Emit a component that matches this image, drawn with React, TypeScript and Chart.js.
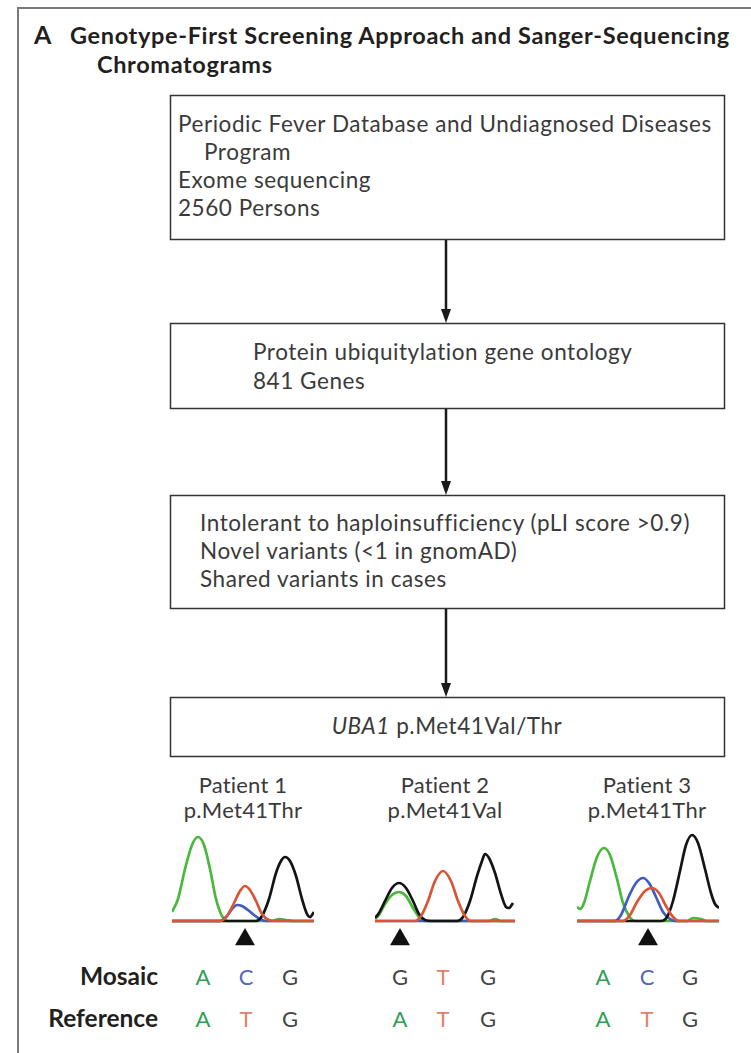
import React, { useEffect, useRef } from "react";
import { Chart, registerables } from "chart.js";
Chart.register(...registerables);

// ---------- data ----------
const titleLines = ["Genotype-First Screening Approach and Sanger-Sequencing", "Chromatograms"];
const box1Lines = ["Periodic Fever Database and Undiagnosed Diseases", "Program", "Exome sequencing", "2560 Persons"];
const box2Lines = ["Protein ubiquitylation gene ontology", "841 Genes"];
const box3Lines = ["Intolerant to haploinsufficiency (pLI score >0.9)", "Novel variants (<1 in gnomAD)", "Shared variants in cases"];
const box4Gene = "UBA1";
const box4Variant = " p.Met41Val/Thr";

const patientNames = ["Patient 1", "Patient 2", "Patient 3"];
const patientMutations = ["p.Met41Thr", "p.Met41Val", "p.Met41Thr"];
const mosaicBases = [["A", "C", "G"], ["G", "T", "G"], ["A", "C", "G"]];
const referenceBases = [["A", "T", "G"], ["A", "T", "G"], ["A", "T", "G"]];
const variantPositions = [73, 25, 71];

// chromatogram traces: [scan position, signal intensity]
const p1Green = [[0, 9], [6, 22], [13, 52], [20, 76], [26, 84], [32, 76], [38, 52], [44, 22], [50, 5], [56, 0], [100, 0], [107, 2], [114, 1], [122, 0], [142, 0]];
const p1Blue = [[0, 0], [48, 0], [54, 4], [60, 12], [65, 16], [70, 15], [76, 11], [82, 6], [88, 2], [94, 0], [142, 0]];
const p1Red = [[0, 0], [48, 0], [55, 5], [62, 18], [68, 30], [73, 35], [78, 31], [84, 20], [90, 7], [97, 1], [104, 0], [142, 0]];
const p1Black = [[0, 0], [84, 0], [90, 5], [97, 22], [104, 48], [109, 60], [113, 64], [118, 60], [124, 45], [130, 22], [135, 7], [138, 4], [142, 9]];

const p2Green = [[0, 2], [4, 6], [10, 17], [17, 26], [24, 29], [31, 25], [38, 13], [44, 4], [50, 0], [114, 0], [120, 2], [126, 0], [140, 0]];
const p2Blue = [[0, 0], [140, 0]];
const p2Red = [[0, 0], [40, 0], [46, 5], [53, 20], [60, 40], [68, 50], [76, 40], [83, 20], [90, 5], [96, 0], [140, 0]];
const p2Black = [[0, 3], [4, 8], [10, 20], [17, 33], [24, 38], [31, 33], [38, 20], [44, 7], [50, 1], [56, 0], [82, 0], [88, 4], [95, 20], [102, 45], [107, 60], [110, 67], [114, 63], [120, 48], [126, 27], [131, 14], [134, 13], [138, 18]];

const p3Green = [[0, 14], [3, 12], [7, 18], [13, 40], [20, 64], [27, 73], [33, 66], [40, 42], [46, 18], [52, 5], [58, 0], [110, 0], [116, 3], [124, 2], [130, 0], [142, 0]];
const p3Blue = [[0, 0], [38, 0], [44, 6], [52, 25], [59, 38], [66, 43], [72, 38], [79, 24], [86, 9], [93, 2], [98, 0], [142, 0]];
const p3Red = [[0, 0], [46, 0], [53, 6], [60, 19], [68, 30], [75, 33], [82, 28], [89, 15], [96, 4], [102, 0], [142, 0]];
const p3Black = [[0, 0], [84, 0], [90, 4], [96, 20], [103, 50], [109, 76], [115, 86], [121, 78], [128, 52], [134, 28], [138, 17], [142, 13]];

const traces = [
  { green: p1Green, blue: p1Blue, red: p1Red, black: p1Black },
  { green: p2Green, blue: p2Blue, red: p2Red, black: p2Black },
  { green: p3Green, blue: p3Blue, red: p3Red, black: p3Black },
];

// ---------- styling ----------
const FONT = "Lato, 'Open Sans', sans-serif";
const COL = { green: "#49b83c", blue: "#3f5cc0", red: "#db5437", black: "#141414" };
const BASE_COL: Record<string, string> = { A: "#2f9e55", C: "#5766b8", G: "#454545", T: "#e27f6c" };
const panelLeft = [172, 375, 577];
const panelWidth = [142, 140, 142];
const panelCenters = [243, 445, 647];
const baseX = [[203, 246, 290], [400, 443, 488], [603, 647, 690]];

function Chromatogram({ idx }: { idx: number }) {
  const ref = useRef<HTMLCanvasElement | null>(null);
  useEffect(() => {
    const t = traces[idx];
    const toPts = (a: number[][]) => a.map(([x, y]) => ({ x, y }));
    const line = (data: number[][], color: string) => ({
      type: "line" as const,
      data: toPts(data),
      borderColor: color,
      borderWidth: 2.7,
      pointRadius: 0,
      cubicInterpolationMode: "monotone" as const,
      fill: false,
    });
    const chart = new Chart(ref.current as HTMLCanvasElement, {
      type: "line",
      data: {
        datasets: [
          {
            type: "scatter",
            data: [{ x: variantPositions[idx], y: -18.5 }],
            pointStyle: "triangle",
            pointRadius: 11.5,
            backgroundColor: "#111",
            borderWidth: 0,
          } as any,
          line(t.red, COL.red),
          line(t.black, COL.black),
          line(t.blue, COL.blue),
          line(t.green, COL.green),
        ],
      },
      options: {
        animation: false,
        responsive: false,
        maintainAspectRatio: false,
        layout: { padding: 0, autoPadding: false },
        events: [],
        scales: {
          x: { type: "linear", min: 0, max: panelWidth[idx], display: false },
          y: { type: "linear", min: -29, max: 95, display: false },
        },
        plugins: { legend: { display: false }, tooltip: { enabled: false } },
      },
    });
    return () => chart.destroy();
  }, [idx]);
  return (
    <canvas
      ref={ref}
      width={panelWidth[idx]}
      height={124}
      style={{ position: "absolute", left: panelLeft[idx], top: 826, width: panelWidth[idx], height: 124 }}
    />
  );
}

function Arrow({ y1, y2 }: { y1: number; y2: number }) {
  return (
    <g>
      <line x1={446} y1={y1} x2={446} y2={y2 - 10} stroke="#1a1a1a" strokeWidth={2.5} />
      <polygon points={`${441},${y2 - 14} ${451},${y2 - 14} ${446},${y2}`} fill="#1a1a1a" />
    </g>
  );
}

export default function App() {
  const txt = { fontFamily: FONT, fontSize: 22.5, fill: "#3a3a3a", letterSpacing: 0.55 } as any;
  const ttl = { fontFamily: FONT, fontWeight: 700, fontSize: 23.5, fill: "#231f20", letterSpacing: 0.65 } as any;
  return (
    <div style={{ position: "absolute", left: 0, top: 0, width: 751, height: 1053, background: "#fff", overflow: "hidden" }}>
      <svg width={751} height={1053} style={{ position: "absolute", left: 0, top: 0 }}>
        <path d="M 18 1053 V 8 H 751" fill="none" stroke="#7a7a7a" strokeWidth={2} />
        <text x={34} y={44} fontFamily={FONT} fontWeight={700} fontSize={25} fill="#231f20">A</text>
        <text {...ttl} x={70} y={44}>{titleLines[0]}</text>
        <text {...ttl} x={97} y={73}>{titleLines[1]}</text>

        <rect x={170.5} y={95.5} width={554} height={144} fill="none" stroke="#333" strokeWidth={1.5} />
        <text {...txt} x={178} y={132}>{box1Lines[0]}</text>
        <text {...txt} x={204} y={160}>{box1Lines[1]}</text>
        <text {...txt} x={178} y={188}>{box1Lines[2]}</text>
        <text {...txt} x={178} y={216}>{box1Lines[3]}</text>

        <Arrow y1={240} y2={323} />
        <rect x={170.5} y={323.5} width={554} height={85} fill="none" stroke="#333" strokeWidth={1.5} />
        <text {...txt} x={253} y={360}>{box2Lines[0]}</text>
        <text {...txt} x={253} y={389}>{box2Lines[1]}</text>

        <Arrow y1={409} y2={495} />
        <rect x={170.5} y={495.5} width={554} height={113} fill="none" stroke="#333" strokeWidth={1.5} />
        <text {...txt} x={200} y={531}>{box3Lines[0]}</text>
        <text {...txt} x={200} y={559}>{box3Lines[1]}</text>
        <text {...txt} x={200} y={587}>{box3Lines[2]}</text>

        <Arrow y1={609} y2={697} />
        <rect x={170.5} y={697.5} width={554} height={59} fill="none" stroke="#333" strokeWidth={1.5} />
        <text {...txt} x={447} y={734} textAnchor="middle">
          <tspan fontStyle="italic">{box4Gene}</tspan>
          <tspan>{box4Variant}</tspan>
        </text>

        {patientNames.map((n, i) => (
          <g key={n}>
            <text {...txt} letterSpacing={0.2} fontSize={22} x={panelCenters[i]} y={793} textAnchor="middle">{n}</text>
            <text {...txt} letterSpacing={0.3} fontSize={22} x={panelCenters[i]} y={818} textAnchor="middle">{patientMutations[i]}</text>
          </g>
        ))}

        <text x={158} y={985} textAnchor="end" fontFamily={FONT} fontWeight={700} fontSize={24.5} fill="#231f20">Mosaic</text>
        <text x={158} y={1027} textAnchor="end" fontFamily={FONT} fontWeight={700} fontSize={24.5} fill="#231f20">Reference</text>
        {mosaicBases.map((row, i) =>
          row.map((b, j) => (
            <text key={`m${i}${j}`} x={baseX[i][j]} y={985} textAnchor="middle" fontFamily={FONT} fontSize={22} fill={BASE_COL[b]}>{b}</text>
          ))
        )}
        {referenceBases.map((row, i) =>
          row.map((b, j) => (
            <text key={`r${i}${j}`} x={baseX[i][j]} y={1027} textAnchor="middle" fontFamily={FONT} fontSize={22} fill={BASE_COL[b]}>{b}</text>
          ))
        )}
      </svg>
      {[0, 1, 2].map((i) => (
        <Chromatogram key={i} idx={i} />
      ))}
    </div>
  );
}
